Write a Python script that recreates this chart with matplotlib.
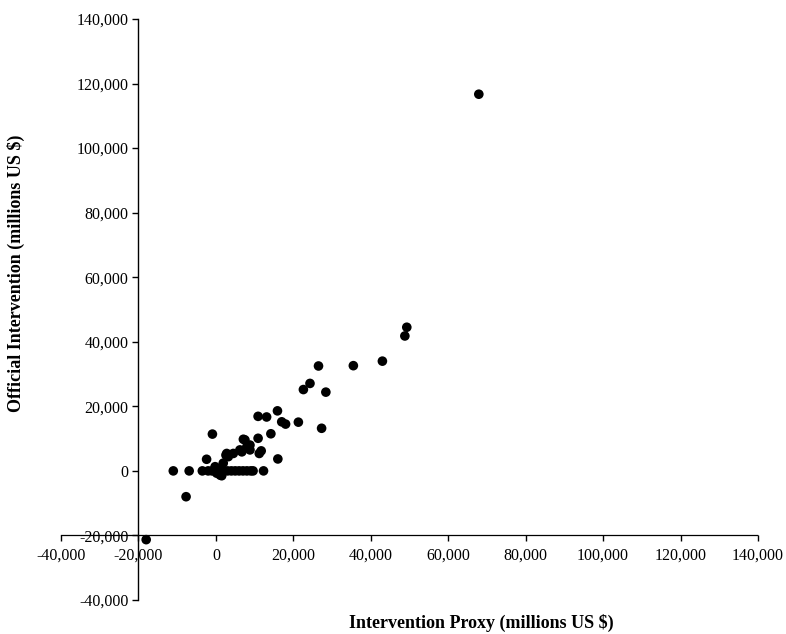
import numpy as np
import matplotlib
matplotlib.use('Agg')
import matplotlib.pyplot as plt
from matplotlib.ticker import FuncFormatter, MultipleLocator

# intervention proxy vs official intervention (millions US $)
proxy = [-18000, -7700, -2400, -900, -200, 200, 1100, 1500, 500, 1900,
         3200, 2600, 2800, 4500, 6700, 6200, 8000, 8800, 7500, 7100,
         8800, 10900, 11200, 11700, 14200, 16000, 10900, 13100, 15900, 17000,
         18000, 21300, 22600, 24300, 26500, 28400, 27300, 35500, 43000, 48800,
         49300, 67900]
official = [-21300, -8000, 3600, 11400, 1300, -700, -1300, -1500, 500, 2400,
            4400, 4900, 5400, 5400, 5900, 6500, 7500, 8000, 9600, 9800,
            6500, 10100, 5400, 6200, 11500, 3700, 16900, 16700, 18600, 15200,
            14500, 15100, 25200, 27100, 32500, 24400, 13200, 32600, 34000, 41800,
            44500, 116700]

# many observations sit exactly on zero official intervention
proxy_zero = [-11000, -6900, -3500, -2000, -1000, 0, 1000, 2000, 3000, 4000,
              5000, 6000, 7000, 8000, 9000, 9600, 12300]

x_all = np.array(proxy + proxy_zero)
y_all = np.array(official + [0] * len(proxy_zero))

plt.rcParams['font.family'] = ['Liberation Serif', 'DejaVu Serif']

fig = plt.figure(figsize=(7.86, 6.34), dpi=100)
ax = fig.add_axes([61 / 786, 34 / 634, 697 / 786, 581 / 634])

ax.scatter(x_all, y_all, s=48, color='black', edgecolors='none', zorder=3, clip_on=False)

ax.set_xlim(-40000, 140000)
ax.set_ylim(-40000, 140000)

ax.spines['top'].set_visible(False)
ax.spines['right'].set_visible(False)
ax.spines['left'].set_position(('data', -20000))
ax.spines['bottom'].set_position(('data', -20000))
ax.spines['left'].set_linewidth(1.0)
ax.spines['bottom'].set_linewidth(0.9)
ax.spines['bottom'].set_linestyle((0, (2, 1)))

ax.xaxis.set_major_locator(MultipleLocator(20000))
ax.yaxis.set_major_locator(MultipleLocator(20000))
fmt = FuncFormatter(lambda v, p: '{:,.0f}'.format(v))
ax.xaxis.set_major_formatter(fmt)
ax.yaxis.set_major_formatter(fmt)

ax.tick_params(axis='y', direction='out', length=4, width=1, pad=3, labelsize=11.5)
ax.tick_params(axis='x', direction='out', length=4, width=1, pad=5, labelsize=11.5)

fig.text(481 / 786, 1 - 623 / 634, 'Intervention Proxy (millions US $)',
         ha='center', va='center', fontsize=13, fontweight='bold')
fig.text(16 / 786, 1 - 273 / 634, 'Official Intervention (millions US $)',
         ha='center', va='center', rotation=90, fontsize=13, fontweight='bold')

fig.savefig('out.png', dpi=100)
